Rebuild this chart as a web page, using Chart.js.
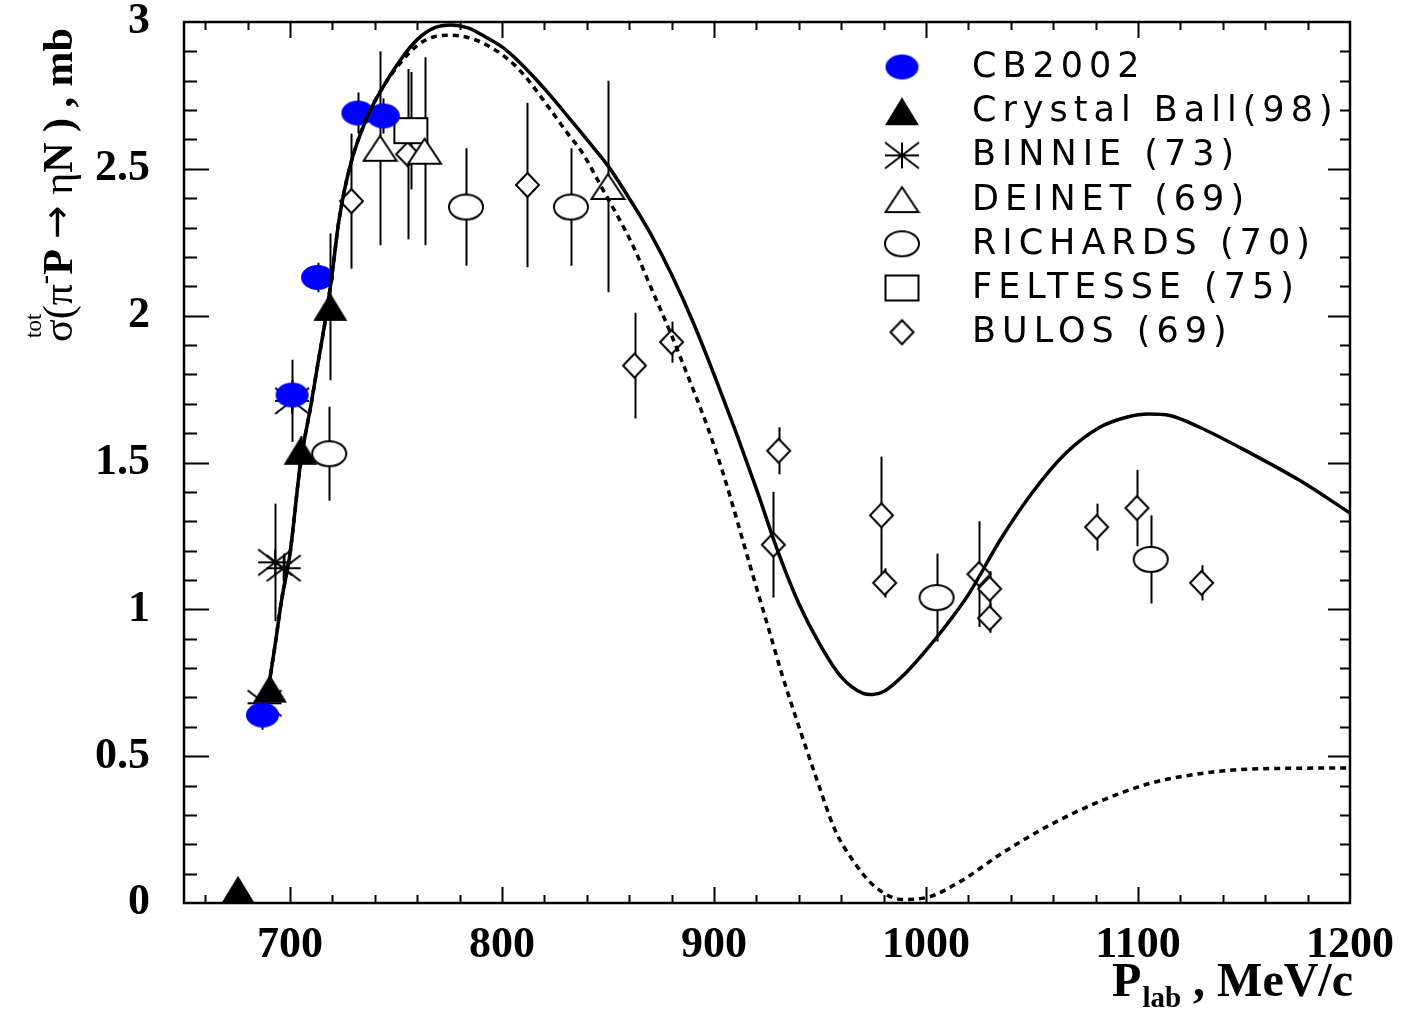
<!DOCTYPE html>
<html>
<head>
<meta charset="utf-8">
<script src="https://cdn.jsdelivr.net/npm/chart.js@4.4.0/dist/chart.umd.min.js"></script>
<style>
  html, body { margin: 0; padding: 0; background: #fff; }
</style>
</head>
<body>
<canvas id="c" width="1403" height="1011"></canvas>
<script>
// tick labels
const xTickVals = [700, 800, 900, 1000, 1100, 1200];
const yTickVals = [0, 0.5, 1, 1.5, 2, 2.5, 3];
const yTickLabels = ["0", "0.5", "1", "1.5", "2", "2.5", "3"];

// CB2002
const cbX = [687, 701, 713, 732, 744];
const cbY = [0.64, 1.73, 2.13, 2.69, 2.68];
const cbErr = [0.05, 0.05, 0.05, 0.07, 0.06];

// Crystal Ball (98)
const cryX = [675.5, 690.5, 705, 719];
const cryY = [0.045, 0.73, 1.54, 2.03];
const cryErr = [0, 0.03, 0.05, 0.25];

// BINNIE (73)
const binX = [688, 693, 697, 701];
const binY = [0.68, 1.16, 1.14, 1.71];
const binErr = [0.03, 0.2, 0.05, 0.14];

// DEINET (69)
const deiX = [742.5, 763.5, 850];
const deiY = [2.57, 2.56, 2.44];
const deiErr = [0.33, 0.32, 0.36];

// RICHARDS (70)
const ricX = [718.5, 783, 832.5, 1005, 1106];
const ricY = [1.53, 2.37, 2.37, 1.04, 1.17];
const ricErr = [0.16, 0.2, 0.2, 0.15, 0.15];

// FELTESSE (75)
const felX = [757];
const felY = [2.63];
const felErr = [0.2];

// BULOS (69)
const bulX = [729, 755.5, 812, 862.5, 880, 930.5, 928, 979, 980.5, 1025, 1030, 1030, 1080.5, 1099.5, 1130];
const bulY = [2.39, 2.55, 2.445, 1.83, 1.91, 1.54, 1.22, 1.32, 1.09, 1.12, 1.07, 0.97, 1.28, 1.345, 1.09];
const bulErr = [0.23, 0.29, 0.28, 0.18, 0.07, 0.08, 0.18, 0.2, 0.05, 0.18, 0.06, 0.05, 0.08, 0.13, 0.06];

// model curves (solid and dashed)
const fitX = [690, 693, 696, 700, 705, 710, 713, 717, 720, 723, 728, 736, 744, 752, 760, 768, 776, 784, 792, 800, 808, 816, 824, 832, 840, 850, 860, 870, 880, 890, 900, 910, 920, 930, 940, 950, 960, 970, 975, 980, 990, 1000, 1010, 1020, 1035, 1050, 1066, 1082, 1095, 1105, 1115, 1129, 1153, 1176, 1200];
const fitY = [0.74, 0.88, 1.03, 1.19, 1.50, 1.70, 1.83, 2.00, 2.15, 2.32, 2.50, 2.67, 2.78, 2.87, 2.94, 2.98, 2.99, 2.98, 2.95, 2.915, 2.865, 2.805, 2.74, 2.67, 2.60, 2.51, 2.40, 2.28, 2.14, 1.98, 1.80, 1.61, 1.41, 1.20, 1.02, 0.88, 0.77, 0.715, 0.71, 0.72, 0.78, 0.86, 0.95, 1.05, 1.236, 1.396, 1.532, 1.62, 1.655, 1.665, 1.66, 1.62, 1.532, 1.44, 1.328];
const fit2X = [690, 693, 696, 700, 705, 710, 713, 717, 720, 723, 728, 736, 744, 752, 760, 768, 776, 791, 807, 823, 831, 838, 846, 862, 870, 879, 889, 897, 904, 911, 918, 925, 932, 941, 949, 957, 966, 976, 989, 1001, 1015, 1036, 1057, 1080, 1106, 1132, 1153, 1200];
const fit2Y = [0.74, 0.88, 1.03, 1.19, 1.50, 1.70, 1.83, 2.00, 2.15, 2.32, 2.50, 2.67, 2.78, 2.86, 2.92, 2.95, 2.955, 2.928, 2.846, 2.70, 2.62, 2.554, 2.45, 2.235, 2.10, 1.95, 1.77, 1.62, 1.47, 1.30, 1.124, 0.953, 0.78, 0.58, 0.41, 0.25, 0.14, 0.055, 0.012, 0.02, 0.068, 0.17, 0.26, 0.34, 0.408, 0.443, 0.456, 0.46];

const pts = (xs, ys) => xs.map((x, i) => ({ x: x, y: ys[i] }));

// marker pictures used as point styles
function marker(kind, w, h) {
  const c = document.createElement("canvas");
  c.width = w + 4;
  c.height = h + 4;
  const g = c.getContext("2d");
  g.translate(c.width / 2, c.height / 2);
  g.lineWidth = 2;
  g.strokeStyle = "#000";
  g.fillStyle = "#fff";
  g.beginPath();
  if (kind === "dot") {
    g.fillStyle = "#0000ff";
    g.ellipse(0, 0, w / 2, h / 2, 0, 0, Math.PI * 2);
    g.fill();
  } else if (kind === "tri" || kind === "otri") {
    g.moveTo(-w / 2, h / 2);
    g.lineTo(w / 2, h / 2);
    g.lineTo(0, -h / 2);
    g.closePath();
    if (kind === "tri") { g.fillStyle = "#000"; g.fill(); }
    else { g.fill(); g.stroke(); }
  } else if (kind === "star") {
    g.moveTo(-w / 2, 0); g.lineTo(w / 2, 0);
    g.moveTo(0, -h / 2); g.lineTo(0, h / 2);
    g.moveTo(-w / 2, -h / 2); g.lineTo(w / 2, h / 2);
    g.moveTo(-w / 2, h / 2); g.lineTo(w / 2, -h / 2);
    g.stroke();
  } else if (kind === "circ") {
    g.ellipse(0, 0, w / 2, h / 2, 0, 0, Math.PI * 2);
    g.fill(); g.stroke();
  } else if (kind === "sq") {
    g.rect(-w / 2, -h / 2, w, h);
    g.fill(); g.stroke();
  } else if (kind === "dia") {
    g.moveTo(0, -h / 2); g.lineTo(w / 2, 0); g.lineTo(0, h / 2); g.lineTo(-w / 2, 0);
    g.closePath();
    g.fill(); g.stroke();
  }
  return c;
}

function series(label, xs, ys, errs, style) {
  return {
    label: label,
    data: pts(xs, ys),
    errors: errs,
    pointStyle: style,
    pointRadius: 10,
    showLine: false,
    clip: false,
    order: 1,
  };
}

const markers = [
  series("CB2002", cbX, cbY, cbErr, marker("dot", 33, 25)),
  series("Crystal Ball(98)", cryX, cryY, cryErr, marker("tri", 34, 28)),
  series("BINNIE (73)", binX, binY, binErr, marker("star", 34, 26)),
  series("DEINET (69)", deiX, deiY, deiErr, marker("otri", 33, 25)),
  series("RICHARDS (70)", ricX, ricY, ricErr, marker("circ", 34, 25)),
  series("FELTESSE (75)", felX, felY, felErr, marker("sq", 33, 25)),
  series("BULOS (69)", bulX, bulY, bulErr, marker("dia", 23, 24)),
];

const errorBars = {
  id: "errorBars",
  beforeDatasetsDraw(chart) {
    const { ctx, scales: { x, y } } = chart;
    ctx.save();
    ctx.strokeStyle = "#000";
    ctx.lineWidth = 2;
    chart.data.datasets.forEach((ds) => {
      if (!ds.errors) return;
      ds.data.forEach((p, j) => {
        const e = ds.errors[j];
        if (!e) return;
        const px = Math.round(x.getPixelForValue(p.x)) + 0.5;
        ctx.beginPath();
        ctx.moveTo(px, y.getPixelForValue(p.y - e));
        ctx.lineTo(px, y.getPixelForValue(p.y + e));
        ctx.stroke();
      });
    });
    ctx.restore();
  },
};

const frame = {
  id: "frame",
  afterDraw(chart) {
    const { ctx, chartArea: a, scales: { x, y } } = chart;
    ctx.save();
    ctx.strokeStyle = "#000";
    ctx.lineWidth = 2.5;
    ctx.strokeRect(a.left, a.top, a.right - a.left, a.bottom - a.top);
    ctx.lineWidth = 2;
    ctx.beginPath();
    for (let v = 660; v < 1200; v += 20) {
      const len = v % 100 === 0 ? 16 : 8;
      const px = Math.round(x.getPixelForValue(v)) + 0.5;
      ctx.moveTo(px, a.bottom); ctx.lineTo(px, a.bottom - len);
      ctx.moveTo(px, a.top); ctx.lineTo(px, a.top + len);
    }
    for (let k = 1; k < 30; k++) {
      const major = k % 5 === 0;
      const py = Math.round(y.getPixelForValue(k / 10)) + 0.5;
      ctx.moveTo(a.left, py); ctx.lineTo(a.left + (major ? 25 : 13), py);
      ctx.moveTo(a.right, py); ctx.lineTo(a.right - (major ? 22 : 10), py);
    }
    ctx.stroke();

    // legend
    ctx.font = '35px "DejaVu Sans"';
    ctx.letterSpacing = "6px";
    ctx.fillStyle = "#000";
    ctx.textBaseline = "middle";
    markers.forEach((ds, i) => {
      const ry = 67 + i * 44.2;
      const img = ds.pointStyle;
      ctx.drawImage(img, 902 - img.width / 2, ry - img.height / 2);
      ctx.fillText(ds.label, 972, ry + 1);
    });
    ctx.letterSpacing = "0px";

    // x title
    const big = 'bold 48px "Liberation Serif"';
    const sub = 'bold 29px "Liberation Serif"';
    ctx.textBaseline = "alphabetic";
    ctx.font = big;
    const wP = ctx.measureText("P").width;
    const wRest = ctx.measureText(" , MeV/c").width;
    ctx.font = sub;
    const wLab = ctx.measureText("lab").width;
    let tx = 1354 - wP - wLab - wRest - 2;
    ctx.font = big;
    ctx.fillText("P", tx, 996);
    tx += wP;
    ctx.font = sub;
    ctx.fillText("lab", tx + 1, 1007);
    tx += wLab + 1;
    ctx.font = big;
    ctx.fillText(" , MeV/c", tx, 996);

    // y title
    ctx.translate(72, 342);
    ctx.rotate(-Math.PI / 2);
    let cx = 0;
    const put = (t, font, dy) => {
      ctx.font = font;
      ctx.fillText(t, cx, dy);
      cx += ctx.measureText(t).width;
    };
    const serif = '42px "Liberation Serif"';
    const bserif = 'bold 42px "Liberation Serif"';
    put("\u03c3", serif, 0);
    ctx.font = '23px "Liberation Serif"';
    ctx.fillText("tot", 4, -31);
    put("(\u03c0", serif, 0);
    put("-", 'bold 28px "Liberation Serif"', -19);
    put("P ", bserif, 0);
    put("\u2192", '40px "DejaVu Sans"', -2);
    put(" \u03b7", serif, 0);
    put("N ) , mb", bserif, 0);
    ctx.restore();
  },
};

const tickFont = { family: '"Liberation Serif"', weight: "bold", size: 44 };

new Chart(document.getElementById("c"), {
  type: "scatter",
  data: {
    datasets: [
      {
        label: "fit",
        data: pts(fitX, fitY),
        showLine: true,
        borderColor: "#000",
        borderWidth: 3.5,
        pointRadius: 0,
        cubicInterpolationMode: "monotone",
        order: 0,
      },
      {
        label: "fit2",
        data: pts(fit2X, fit2Y),
        showLine: true,
        borderColor: "#000",
        borderWidth: 3.5,
        borderDash: [6, 5],
        pointRadius: 0,
        cubicInterpolationMode: "monotone",
        order: 0,
      },
      ...markers,
    ],
  },
  options: {
    responsive: false,
    animation: false,
    events: [],
    layout: { padding: { top: 22, right: 53, left: 0, bottom: 0 } },
    plugins: { legend: { display: false }, tooltip: { enabled: false } },
    scales: {
      x: {
        type: "linear",
        min: 650,
        max: 1200,
        grid: { display: false },
        border: { display: false },
        ticks: {
          font: tickFont,
          color: "#000",
          padding: 8,
          maxRotation: 0,
          autoSkip: false,
          callback: (v) => String(v),
        },
        afterBuildTicks: (s) => { s.ticks = xTickVals.map((v) => ({ value: v })); },
        afterFit: (s) => { s.height = 108; s.paddingLeft = 0; s.paddingRight = 0; },
      },
      y: {
        min: 0,
        max: 3,
        grid: { display: false },
        border: { display: false },
        ticks: {
          font: tickFont,
          color: "#000",
          padding: 26,
          callback: (v) => yTickLabels[yTickVals.indexOf(v)],
        },
        afterBuildTicks: (s) => { s.ticks = yTickVals.map((v) => ({ value: v })); },
        afterFit: (s) => { s.width = 184; s.paddingTop = 0; s.paddingBottom = 0; },
      },
    },
  },
  plugins: [errorBars, frame],
});
</script>
</body>
</html>
